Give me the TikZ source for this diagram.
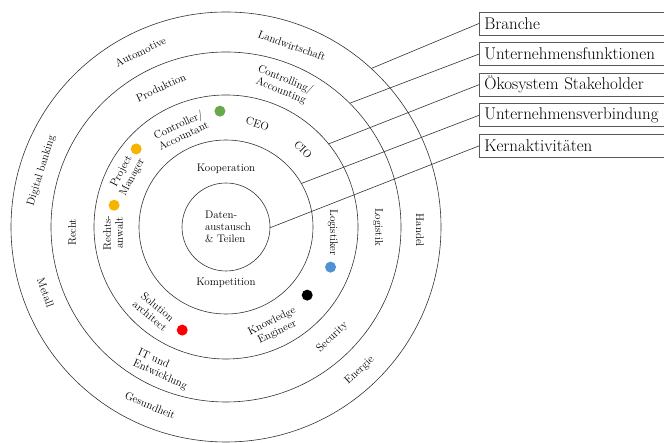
\documentclass[tikz,border=0pt]{standalone}
\usetikzlibrary{positioning}
\definecolor{dotgreen}{RGB}{106,168,79}
\definecolor{dotorange}{RGB}{244,180,0}
\definecolor{dotblue}{RGB}{80,145,210}
\definecolor{dotred}{RGB}{250,0,0}
\begin{document}
\begin{tikzpicture}[x=1pt,y=1pt,
    ring/.style={font=\fontsize{11}{12}\selectfont,align=center,inner sep=1pt},
    layer/.style={draw=black!65,line width=0.6pt,anchor=west,text width=220pt,
      inner xsep=5pt,inner ysep=1pt,minimum height=23pt,align=left,
      font=\fontsize{17}{18}\selectfont},
    dot/.style={circle,inner sep=0pt,minimum size=11pt}]
  \clip (-226,-216) rectangle (438,227);
  \fill[white] (-226,-216) rectangle (438,227);
  \begin{scope}[draw=black!80,line width=0.6pt]
    \draw (0,0) circle (44);
    \draw (0,0) circle (87);
    \draw (0,0) circle (132);
    \draw (0,0) circle (175);
    \draw (0,0) circle (215);
  \end{scope}
  \path
    (116:195) node[ring,rotate=26] (automotive){Automotive}
    (70:193) node[ring,rotate=-20] (landwirtschaft){Landwirtschaft}
    (-1:194) node[ring,rotate=-90] (handel){Handel}
    (-47:196) node[ring,rotate=43] (energie){Energie}
    (247:194) node[ring,rotate=-23] (gesundheit){Gesundheit}
    (200:192) node[ring,rotate=-70] (metall){Metall}
    (163:193) node[ring,rotate=73] (banking){Digital banking};
  \path
    (115:154) node[ring,rotate=25] (produktion){Produktion}
    (68:153) node[ring,rotate=-22] (controlling){Controlling/\\Accounting}
    (0:152) node[ring,rotate=-90] (logistik){Logistik}
    (-46:153) node[ring,rotate=44] (security){Security}
    (246:156) node[ring,rotate=-24,align=left] (it){IT und\\Entwicklung}
    (182:154) node[ring,rotate=90] (recht){Recht};
  \path
    (115:107) node[ring,rotate=25] (controller){Controller/\\Accountant}
    (73:108) node[ring,rotate=-17] (ceo){CEO}
    (45:109) node[ring,rotate=-45] (cio){CIO}
    (-3:107) node[ring,rotate=-90] (logistiker){Logistiker}
    (-64:111) node[ring,rotate=26] (knowledge){Knowledge\\Engineer}
    (229.5:111) node[ring,rotate=-40] (solution){Solution\\architect}
    (183:113) node[ring,rotate=90] (anwalt){Rechts-\\anwalt}
    (152:112) node[ring,rotate=62] (pm){Project\\Manager};
  \path
    (93:116) node[dot,fill=dotgreen] (d1){}
    (139:119) node[dot,fill=dotorange] (d2){}
    (169:114) node[dot,fill=dotorange] (d3){}
    (-21:112) node[dot,fill=dotblue] (d4){}
    (-40:106) node[dot,fill=black] (d5){}
    (-113:112) node[dot,fill=dotred] (d6){};
  \node[ring] (kooperation) at (0,58) {Kooperation};
  \node[ring] (kompetition) at (0,-56) {Kompetition};
  \node[ring,align=left] (daten) at (2,0) {Daten-\\austausch\\\& Teilen};
  \node[layer] (branche) at (253,203.5) {Branche};
  \node[layer,below=7pt of branche] (funktionen) {Unternehmensfunktionen};
  \node[layer,below=7pt of funktionen] (oekosystem) {Ökosystem Stakeholder};
  \node[layer,below=7pt of oekosystem] (verbindung) {Unternehmensverbindung};
  \node[layer,below=7pt of verbindung] (kern) {Kernaktivitäten};
  \coordinate (e1) at (47.5:215);
  \coordinate (e2) at (45:175);
  \coordinate (e3) at (39:132);
  \coordinate (e4) at (30:87);
  \coordinate (e5) at (-1:44);
  \begin{scope}[draw=black!80,line width=0.6pt]
    \draw (branche.west) -- (e1);
    \draw (funktionen.west) -- (e2);
    \draw (oekosystem.west) -- (e3);
    \draw (verbindung.west) -- (e4);
    \draw (kern.west) -- (e5);
  \end{scope}
\end{tikzpicture}
\end{document}
